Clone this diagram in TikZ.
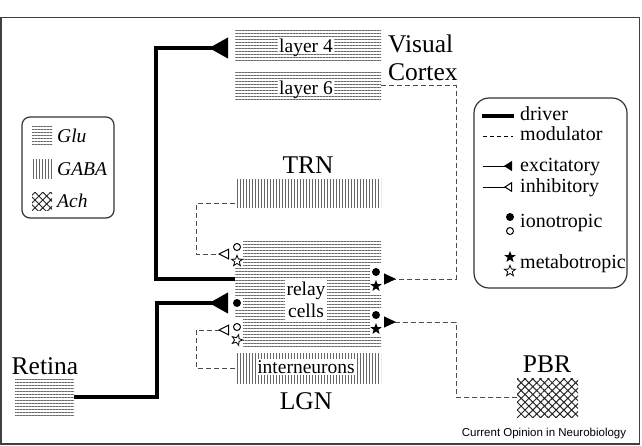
\documentclass[tikz,border=0pt]{standalone}
\usepackage{fontspec}
\setmainfont{Liberation Serif}
\newfontfamily\creditfont{Liberation Sans}
\usetikzlibrary{arrows.meta,patterns.meta,shapes.geometric,calc}

\tikzset{
  glu/.style={pattern={Lines[angle=0,distance=3pt,line width=1pt]}, pattern color=black!60},
  gaba/.style={pattern={Lines[angle=90,distance=3pt,line width=1pt]}, pattern color=black!60},
  ach/.style={pattern={Hatch[angle=45,distance=5.5pt,line width=1pt]}, pattern color=black!85},
  region/.style={inner sep=0pt, minimum width=146pt},
  bigtext/.style={font=\fontsize{25.5}{30}\selectfont, inner sep=0pt, anchor=base},
  legtext/.style={font=\fontsize{20}{22}\selectfont, inner sep=0pt, anchor=base west},
  legital/.style={font=\fontsize{19.5}{22}\selectfont\itshape, inner sep=0pt, anchor=base west},
  lbl/.style={font=\fontsize{19.5}{22}\selectfont, fill=white, inner sep=0.8pt, text height=13pt, text depth=1pt, anchor=base},
  driver/.style={line width=4pt},
  modulator/.style={line width=1pt, black!70, dash pattern=on 5pt off 3pt},
  drvtip/.style={-{Triangle[reversed,length=19pt,width=20pt]}},
  exctip/.style={-{Triangle[reversed,length=12pt,width=11pt,color=black]}},
  inhtip/.style={-{Triangle[reversed,open,length=11pt,width=11pt,color=black]}},
  whitepatch/.style={fill=white, inner sep=0pt, minimum width=12pt},
  ionoF/.style={circle, fill=black, inner sep=0pt, minimum size=8pt},
  ionoO/.style={circle, draw=black, line width=1pt, fill=white, inner sep=0pt, minimum size=7pt},
  metaF/.style={star, star points=5, star point ratio=2.4, fill=black, inner sep=0pt, minimum size=12pt},
  metaO/.style={star, star points=5, star point ratio=2.4, draw=black, line width=0.8pt, inner sep=0pt, minimum size=11.5pt},
}

\begin{document}
\begin{tikzpicture}[x=1pt,y=-1pt]
    \useasboundingbox (0,0) rectangle (642,445);
    % Frame
    \draw[line width=1.5pt, black!75] (0.8,17.5) rectangle (639.5,444);

    % Visual cortex
    \node[glu, region, minimum height=32pt] (layerfour) at (308,45) {};
    \node[lbl] (layerfourTxt) at (306,52) {layer 4};
    \node[glu, region, minimum height=29pt] (layersix) at (308,85.5) {};
    \node[lbl] (layersixTxt) at (306,94) {layer 6};
    \node[bigtext, anchor=base west] (visualTxt) at (388,52) {Visual};
    \node[bigtext, anchor=base west] (cortexTxt) at (388,80) {Cortex};

    % TRN
    \node[bigtext] (trnTxt) at (308,173) {TRN};
    \node[gaba, region, minimum height=28pt] (trn) at (308,193) {};

    % LGN: relay cells and interneurons
    \node[glu, region, minimum height=109pt] (relay) at (308,293.5) {};
    \node[font=\fontsize{19.5}{22}\selectfont, align=center, fill=white, inner sep=2pt] (relayTxt) at (306,300) {relay\\cells};
    \node[gaba, region, minimum height=30pt] (intern) at (308,368) {};
    \node[lbl] (internTxt) at (306,373) {interneurons};
    \node[bigtext] (lgnTxt) at (306,409) {LGN};

    % Retina and PBR
    \node[bigtext] (retinaTxt) at (45,374) {Retina};
    \node[glu, inner sep=0pt, minimum width=59pt, minimum height=38pt] (retina) at (44.5,397) {};
    \node[bigtext] (pbrTxt) at (547,372) {PBR};
    \node[ach, inner sep=0pt, minimum width=61pt, minimum height=39pt] (pbr) at (547.5,397.5) {};
    \node[font=\creditfont\fontsize{11.5}{13}\selectfont, inner sep=0pt, anchor=base] (credit) at (544,436) {Current Opinion in Neurobiology};

    % Receptor symbols on the relay cells
    \node[whitepatch, minimum height=28pt] (ruPatch) at (376,279) {};
    \node[ionoF] (ruIono) at (376,272) {};
    \node[metaF] (ruMeta) at (376,286) {};
    \node[whitepatch, minimum height=28pt] (rlPatch) at (376,322) {};
    \node[ionoF] (rlIono) at (376,315) {};
    \node[metaF] (rlMeta) at (376,329) {};
    \node[whitepatch, minimum height=14pt] (retPatch) at (237,303) {};
    \node[ionoF] (retIono) at (237,303) {};
    \node[whitepatch, minimum height=28pt] (luPatch) at (237,254) {};
    \node[ionoO] (luIono) at (237,247) {};
    \node[metaO] (luMeta) at (237,261) {};
    \node[whitepatch, minimum height=28pt] (llPatch) at (237,333) {};
    \node[ionoO] (llIono) at (237,327) {};
    \node[metaO, rotate=-90] (llMeta) at (237,340) {};

    % Connector ends
    \coordinate (relayOut) at (235,279);
    \coordinate (l4In) at (228,48);
    \coordinate (retIn) at (228,303);
    \coordinate (ruIn) at (384,279);
    \coordinate (rlIn) at (384,322);
    \coordinate (luIn) at (229,254);
    \coordinate (llIn) at (229,330);

    % Drivers
    \draw[driver, drvtip] (relayOut) -| (156,48) -- (l4In);
    \draw[driver, drvtip] (retina.east) -| (157,303) -- (retIn);

    % Modulators
    \draw[modulator, exctip] (layersix.east) -| (456,279) -- (ruIn);
    \draw[modulator, exctip] (pbr.west) -| (456,322) -- (rlIn);
    \draw[modulator, inhtip] ($(trn.south west)+(0,-4)$) -| (196,254) -- (luIn);
    \draw[modulator, inhtip] (intern.west) -| (196,330) -- (llIn);

    % Key: transmitters
    \draw[rounded corners=8pt, line width=1.2pt, black!80] (22,117) rectangle (114,218);
    \node[glu, inner sep=0pt, minimum width=20pt, minimum height=20pt] (gluKey) at (42,136) {};
    \node[legital] (gluTxt) at (57,142) {Glu};
    \node[gaba, inner sep=0pt, minimum width=20pt, minimum height=19pt] (gabaKey) at (42,168.5) {};
    \node[legital] (gabaTxt) at (57,175) {GABA};
    \node[ach, inner sep=0pt, minimum width=20pt, minimum height=18pt] (achKey) at (42,201) {};
    \node[legital] (achTxt) at (57,207) {Ach};

    % Key: connections and receptors
    \draw[rounded corners=15pt, line width=1.2pt, black!80] (474,98) rectangle (627,288);
    \draw[driver] (482,116) -- (514,116);
    \node[legtext] (driverTxt) at (520,120.5) {driver};
    \draw[line width=1pt, dash pattern=on 4pt off 3pt] (483,136) -- (513,136);
    \node[legtext] (modTxt) at (520,140.5) {modulator};
    \draw[line width=1pt, -{Triangle[reversed,length=8pt,width=10pt]}] (483,166) -- (512,166);
    \node[legtext] (excTxt) at (520,171) {excitatory};
    \draw[line width=1pt, -{Triangle[reversed,open,length=8pt,width=10pt]}] (483,187) -- (512,187);
    \node[legtext] (inhTxt) at (520,192) {inhibitory};
    \node[ionoF] (ionoKeyF) at (510,217) {};
    \node[ionoO] (ionoKeyO) at (510,231) {};
    \node[legtext] (ionoTxt) at (520,227) {ionotropic};
    \node[metaF] (metaKeyF) at (510,257) {};
    \node[metaO] (metaKeyO) at (510,271) {};
    \node[legtext] (metaTxt) at (520,268) {metabotropic};
\end{tikzpicture}
\end{document}
